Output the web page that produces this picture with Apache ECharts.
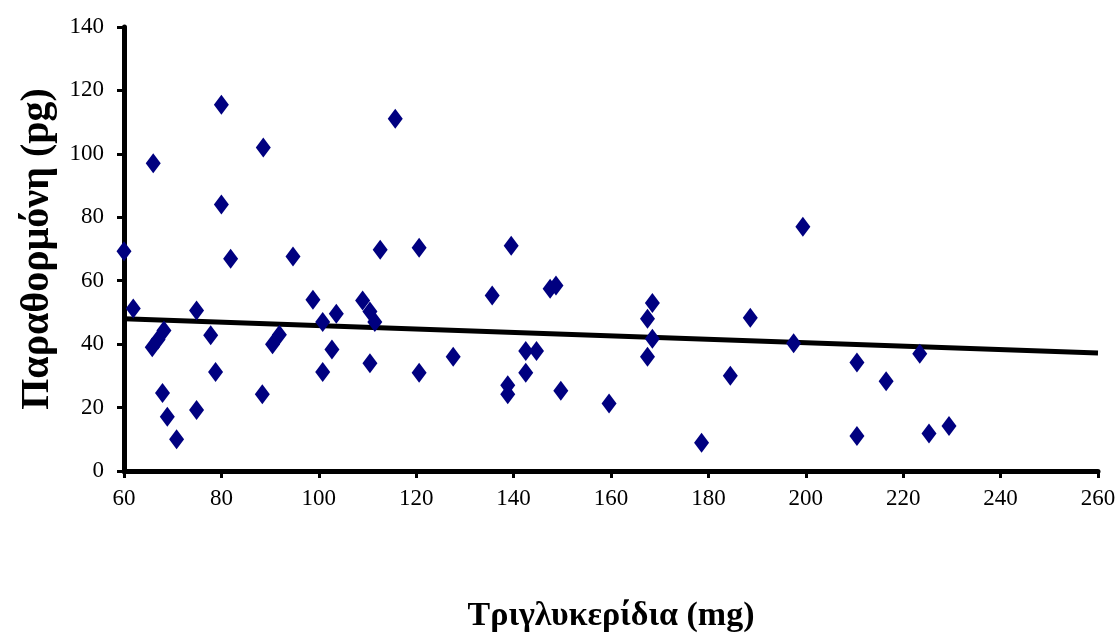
<!DOCTYPE html>
<html>
<head>
<meta charset="utf-8">
<script src="https://cdn.jsdelivr.net/npm/echarts@6/dist/echarts.min.js"></script>
<style>
html,body{margin:0;padding:0;background:#fff;}
#c{width:1118px;height:642px;}
</style>
</head>
<body>
<div id="c"></div>
<script>
// Triglycerides (x) values
const triglycerides = [60, 61.9, 65.8, 67, 68.2, 66, 67.9, 68.9, 70.8, 74.9, 74.9, 77.8, 78.8, 80, 80, 81.9,
  88.4, 88.6, 90.5, 91.9, 94.7, 98.8, 100.8, 100.8, 102.7, 103.6, 109, 110.5, 111.5, 110.5, 112.6, 115.7,
  120.6, 120.6, 127.6, 135.6, 139.5, 138.8, 138.8, 142.5, 144.7, 142.5, 149.7, 147.5, 148.7, 159.6,
  168.5, 167.5, 168.5, 167.5, 178.6, 184.5, 188.6, 199.4, 197.5, 210.5, 210.5, 216.5, 223.4, 225.3, 229.4];
// Parathormone (y) values
const parathormone = [69.3, 51.2, 39, 41.5, 44.3, 97, 24.6, 17.1, 10, 50.6, 19.2, 42.8, 31.2, 115.5, 84, 66.9,
  24.2, 102, 40, 43, 67.6, 54, 47, 31.2, 38.3, 49.6, 53.8, 50.3, 47, 34, 69.8, 111.1,
  70.4, 31, 36, 55.3, 71, 27, 24.2, 37.8, 37.8, 31, 25.3, 57.5, 58.5, 21.3,
  53, 48, 41.7, 36, 8.9, 30, 48.3, 77, 40.3, 34.2, 11, 28.3, 37, 11.8, 14.2];
// Regression line end points
const trendX = [60, 260];
const trendY = [48, 37.2];
const xTicks = ['60','80','100','120','140','160','180','200','220','240','260'];
const yTicks = ['0','20','40','60','80','100','120','140'];

const points = triglycerides.map((x, i) => [x, parathormone[i]]);
const trend = trendX.map((x, i) => [x, trendY[i]]);

const chart = echarts.init(document.getElementById('c'), null, {renderer: 'canvas'});
const serif = "'Liberation Serif', 'DejaVu Serif', serif";
chart.setOption({
  animation: false,
  backgroundColor: '#fff',
  grid: {left: 124, right: 20, top: 27, bottom: 171, containLabel: false, outerBoundsMode: 'none'},
  xAxis: {
    type: 'value', min: 60, max: 260, interval: 20,
    name: 'Τριγλυκερίδια (mg)', nameLocation: 'middle', nameGap: 128,
    nameTextStyle: {fontFamily: serif, fontWeight: 'bold', fontSize: 34, color: '#000'},
    axisLine: {show: true, onZero: false, lineStyle: {color: '#000', width: 5}},
    axisTick: {show: true, inside: false, length: 7, lineStyle: {color: '#000', width: 3}},
    axisLabel: {fontFamily: serif, fontSize: 23, color: '#000', margin: 16,
      formatter: v => xTicks[Math.round((v - 60) / 20)]},
    splitLine: {show: false}
  },
  yAxis: {
    type: 'value', min: 0, max: 140, interval: 20,
    name: 'Παραθορμόνη (pg)', nameLocation: 'middle', nameGap: 66, nameRotate: 90,
    nameTextStyle: {fontFamily: serif, fontWeight: 'bold', fontSize: 40, color: '#000'},
    axisLine: {show: true, onZero: false, lineStyle: {color: '#000', width: 5}},
    axisTick: {show: true, inside: false, length: 7, lineStyle: {color: '#000', width: 3}},
    axisLabel: {fontFamily: serif, fontSize: 23, color: '#000', margin: 20,
      formatter: v => yTicks[Math.round(v / 20)]},
    splitLine: {show: false}
  },
  series: [
    {
      type: 'line', data: trend, symbol: 'none', z: 2,
      lineStyle: {color: '#000', width: 5}
    },
    {
      type: 'scatter', data: points, symbol: 'diamond', symbolSize: [15, 20], z: 3,
      itemStyle: {color: '#000080', opacity: 1}
    }
  ]
});
</script>
</body>
</html>
